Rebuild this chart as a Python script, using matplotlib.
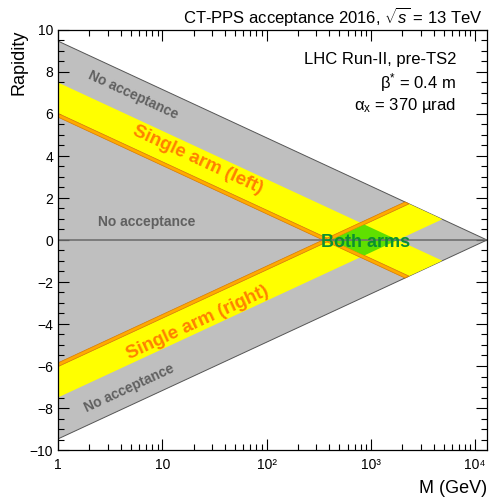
import numpy as np
import matplotlib
matplotlib.use("Agg")
import matplotlib.pyplot as plt
import matplotlib.ticker as mticker

plt.rcParams["font.family"] = ["Liberation Sans", "DejaVu Sans"]
plt.rcParams["mathtext.fontset"] = "custom"
plt.rcParams["mathtext.rm"] = "Liberation Sans"
plt.rcParams["mathtext.it"] = "Liberation Sans:italic"
plt.rcParams["mathtext.bf"] = "Liberation Sans:bold"

# ── Data ──────────────────────────────────────────────────────────────────────
SQRT_S = 13000.0                 # GeV
XI_ORANGE = [0.0267, 0.032]      # partial acceptance strip (xi range)
XI_YELLOW = [0.032, 0.139]       # full acceptance (xi range)
M_MIN = 1.0

X_TICKS = [1, 10, 100, 1000, 10000]
X_TICKLABELS = ["1", "10", "10²", "10³", "10⁴"]
Y_TICKS = [-10, -8, -6, -4, -2, 0, 2, 4, 6, 8, 10]

# label positions (M, y)
LBL_NOACC_TOP = (5.3, 6.9)
LBL_NOACC_MID = (7.1, 0.86)
LBL_NOACC_BOT = (4.8, -7.05)
LBL_LEFT = (21.9, 3.8)
LBL_RIGHT = (21.9, -3.95)
LBL_BOTH = (886, -0.1)

GREY = "#bfbfbf"
YELLOW = "#ffff00"
ORANGE = "#ffaa00"
GREEN = "#5fe000"


def arm_polygon(xi_lo, xi_hi, sign):
    """Band of one arm: xi in [xi_lo, xi_hi], other proton xi <= 1."""
    pts = [(M_MIN, np.log(xi_hi * SQRT_S / M_MIN)),
           (SQRT_S * np.sqrt(xi_hi), 0.5 * np.log(xi_hi)),
           (SQRT_S * np.sqrt(xi_lo), 0.5 * np.log(xi_lo)),
           (M_MIN, np.log(xi_lo * SQRT_S / M_MIN))]
    m = [p[0] for p in pts]
    y = [sign * p[1] for p in pts]
    return m, y


# ── Figure ────────────────────────────────────────────────────────────────────
fig = plt.figure(figsize=(4.9, 4.98), dpi=100, facecolor="white")
ax = fig.add_axes([58 / 490, 48 / 498, 429 / 490, 420 / 498])
ax.set_xscale("log")
ax.set_xlim(M_MIN, SQRT_S)
ax.set_ylim(-10, 10)

# kinematic triangle
y_kin = np.log(SQRT_S / M_MIN)
ax.fill([M_MIN, SQRT_S, M_MIN], [y_kin, 0, -y_kin],
        facecolor=GREY, edgecolor="#555555", linewidth=0.7, zorder=1)

# single-arm bands
for sign in (1, -1):
    m, y = arm_polygon(XI_YELLOW[0], XI_YELLOW[1], sign)
    ax.fill(m, y, facecolor=YELLOW, edgecolor="none", zorder=2)
for sign in (1, -1):
    m, y = arm_polygon(XI_ORANGE[0], XI_ORANGE[1], sign)
    ax.fill(m, y, facecolor=ORANGE, edgecolor="#d97a00", linewidth=0.5, zorder=3)

# both arms
lo, hi = XI_YELLOW
m_top = SQRT_S * np.sqrt(lo * hi)
dy = 0.5 * np.log(hi / lo)
ax.fill([SQRT_S * lo, m_top, SQRT_S * hi, m_top], [0, dy, 0, -dy],
        facecolor=GREEN, edgecolor="none", zorder=4)

ax.axhline(0, color="#707070", linewidth=1.2, zorder=5)

# ── Labels ────────────────────────────────────────────────────────────────────
ang = 24.8
txt = dict(ha="center", va="center", rotation_mode="anchor", zorder=6)
ax.text(*LBL_NOACC_TOP, "No acceptance", rotation=-ang, color="#606060",
        fontsize=10, fontweight="bold", **txt)
ax.text(*LBL_NOACC_MID, "No acceptance", color="#606060",
        fontsize=10, fontweight="bold", **txt)
ax.text(*LBL_NOACC_BOT, "No acceptance", rotation=ang, color="#606060",
        fontsize=10, fontweight="bold", **txt)
ax.text(*LBL_LEFT, "Single arm (left)", rotation=-ang, color="#ff8000",
        fontsize=13.5, fontweight="bold", **txt)
ax.text(*LBL_RIGHT, "Single arm (right)", rotation=ang, color="#ff8000",
        fontsize=13.5, fontweight="bold", **txt)
ax.text(*LBL_BOTH, "Both arms", color="#0a9030",
        fontsize=13, fontweight="bold", **txt)

ax.text(0.9907, 1.031, r"CT-PPS acceptance 2016, $\sqrt{s}$ = 13 TeV",
        transform=ax.transAxes, ha="right", va="center", fontsize=12)
ax.text(0.928, 0.9286, "LHC Run-II, pre-TS2", transform=ax.transAxes,
        ha="right", va="center", fontsize=12)
ax.text(0.928, 0.876, r"β$^{*}$ = 0.4 m", transform=ax.transAxes,
        ha="right", va="center", fontsize=12)
ax.text(0.928, 0.821, r"α$_{\mathrm{x}}$ = 370 µrad", transform=ax.transAxes,
        ha="right", va="center", fontsize=12)

ax.set_ylabel("Rapidity", fontsize=13, loc="top")
ax.yaxis.set_label_coords(-0.072, 1.0)
ax.set_xlabel("M (GeV)", fontsize=13, loc="right")
ax.xaxis.set_label_coords(1.0, -0.071)

# ── Axes cosmetics ────────────────────────────────────────────────────────────
ax.set_xticks(X_TICKS)
ax.set_xticklabels(X_TICKLABELS)
ax.xaxis.set_minor_locator(mticker.LogLocator(base=10, subs=np.arange(2, 10)))
ax.xaxis.set_minor_formatter(mticker.NullFormatter())
ax.set_yticks(Y_TICKS)
ax.yaxis.set_minor_locator(mticker.MultipleLocator(0.5))
ax.tick_params(which="both", direction="in", top=True, right=True,
               labelsize=10, width=0.8, colors="black")
ax.tick_params(which="major", length=8)
ax.tick_params(which="minor", length=4)
ax.tick_params(axis="x", pad=6)
for sp in ax.spines.values():
    sp.set_linewidth(0.9)
    sp.set_zorder(7)

fig.savefig("out.png", dpi=100, facecolor="white")
